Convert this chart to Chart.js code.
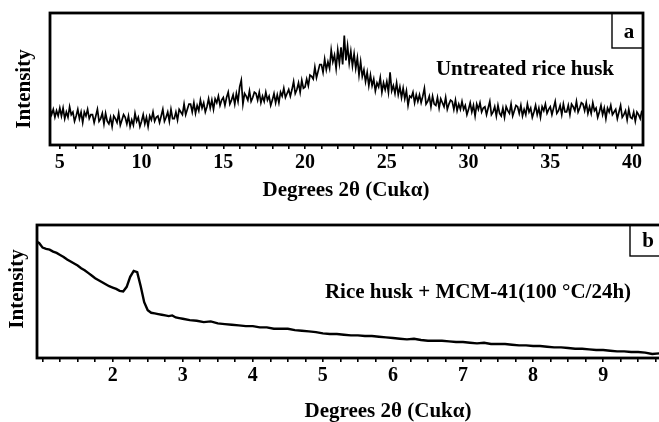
<!DOCTYPE html>
<html>
<head>
<meta charset="utf-8">
<script src="https://cdn.jsdelivr.net/npm/chart.js@4"></script>
<style>
  html, body { margin: 0; padding: 0; background: #fff; overflow: hidden; }
  #wrap { position: relative; width: 659px; height: 422px; }
  .box { position: absolute; left: 0; }
</style>
</head>
<body>
<div id="wrap">
  <div class="box" style="top:0;width:659px;height:205px"><canvas id="chartA"></canvas></div>
  <div class="box" style="top:205px;width:665px;height:217px"><canvas id="chartB"></canvas></div>
</div>
<script>
// panel a: untreated rice husk, 2theta from 4.4 in steps of 0.1
const rawStart = 4.4;
const rawStep = 0.1;
const rawIntensity = [
  28, 23, 27, 21, 26, 22,
  28, 22, 28, 20, 25, 21, 29, 23, 25, 18,
  22, 27, 20, 25, 17, 25, 22, 27, 20, 23,
  23, 17, 22, 27, 18, 20, 24, 16, 24, 18,
  16, 21, 14, 22, 20, 17, 24, 15, 19, 23,
  21, 16, 22, 14, 19, 15, 24, 18, 21, 14,
  18, 23, 16, 21, 14, 22, 19, 25, 18, 21,
  22, 17, 22, 27, 18, 21, 25, 18, 27, 20,
  20, 25, 19, 27, 25, 23, 31, 23, 27, 31,
  31, 25, 32, 24, 30, 26, 34, 28, 32, 25,
  29, 35, 28, 34, 27, 35, 32, 37, 30, 34,
  36, 30, 36, 40, 31, 34, 38, 31, 39, 33,
  44, 49, 31, 39, 37, 34, 41, 33, 36, 40,
  39, 34, 40, 32, 37, 33, 40, 34, 37, 30,
  34, 39, 32, 38, 32, 40, 37, 43, 36, 39,
  42, 37, 42, 48, 39, 42, 47, 40, 49, 43,
  44, 50, 45, 53, 52, 50, 59, 51, 56, 61,
  61, 55, 65, 57, 63, 58, 72, 63, 68, 58,
  72, 62, 74, 61, 83, 64, 75, 62, 71, 60,
  69, 58, 66, 53, 63, 52, 57, 48, 55, 45,
  53, 45, 50, 41, 47, 44, 51, 40, 47, 42,
  48, 40, 55, 41, 45, 39, 47, 38, 44, 36,
  43, 35, 41, 30, 37, 36, 40, 32, 38, 33,
  38, 32, 37, 43, 31, 33, 37, 29, 37, 31,
  30, 36, 28, 35, 32, 29, 36, 27, 31, 34,
  33, 27, 34, 26, 31, 27, 33, 27, 30, 23,
  27, 32, 25, 30, 22, 31, 27, 32, 25, 28,
  29, 23, 28, 33, 23, 25, 29, 22, 30, 24,
  22, 28, 21, 29, 26, 24, 31, 22, 26, 30,
  29, 24, 30, 22, 27, 23, 31, 25, 28, 21,
  25, 30, 23, 28, 21, 29, 26, 31, 24, 27,
  29, 23, 28, 33, 24, 26, 30, 23, 31, 25,
  25, 30, 23, 31, 29, 26, 33, 25, 28, 32,
  31, 26, 32, 24, 29, 24, 32, 26, 28, 21,
  25, 30, 23, 28, 20, 28, 25, 30, 23, 25,
  27, 20, 25, 30, 21, 23, 26, 19, 27, 21,
  20, 25, 18, 25, 23, 20, 26
];
const rawTicks = [5, 10, 15, 20, 25, 30, 35, 40];

// panel b: rice husk + MCM-41
const mcmAngles = [
  0.90, 0.95, 1.00, 1.05, 1.10, 1.15, 1.20, 1.25, 1.30, 1.35,
  1.40, 1.45, 1.50, 1.55, 1.60, 1.65, 1.70, 1.75, 1.80, 1.85,
  1.90, 1.95, 2.00, 2.05, 2.10, 2.15, 2.20, 2.25, 2.30, 2.35,
  2.40, 2.45, 2.50, 2.55, 2.60, 2.65, 2.70, 2.75, 2.80, 2.85,
  2.90, 2.95, 3.00,
  3.1, 3.2, 3.3, 3.4, 3.5, 3.6, 3.7, 3.8, 3.9, 4.0,
  4.1, 4.2, 4.3, 4.4, 4.5, 4.6, 4.7, 4.8, 4.9, 5.0,
  5.1, 5.2, 5.3, 5.4, 5.5, 5.6, 5.7, 5.8, 5.9, 6.0,
  6.1, 6.2, 6.3, 6.4, 6.5, 6.6, 6.7, 6.8, 6.9, 7.0,
  7.1, 7.2, 7.3, 7.4, 7.5, 7.6, 7.7, 7.8, 7.9, 8.0,
  8.1, 8.2, 8.3, 8.4, 8.5, 8.6, 8.7, 8.8, 8.9, 9.0,
  9.1, 9.2, 9.3, 9.4, 9.5, 9.6, 9.7, 9.8
];
const mcmIntensity = [
  88, 86.5, 83, 82, 81.5, 80, 79, 77.5, 76, 74,
  72.5, 71, 69.5, 67.5, 66, 64, 62, 60, 58.5, 57,
  55.5, 54, 53, 52, 50.5, 50, 53.5, 61, 65.5, 64.5,
  54, 42, 36, 34, 33.5, 33, 32.5, 32, 31.5, 32,
  30.5, 30, 29.5,
  28.5, 28, 27, 27.5, 26, 25.5, 25, 24.5, 24, 24,
  23, 23, 22, 22, 22, 21, 20.5, 20, 19.5, 18.5,
  18, 18, 17.5, 17, 17, 16.5, 16.5, 16, 15.5, 15,
  14.5, 14, 14.5, 13.5, 13, 13, 13, 12.5, 12, 12,
  11.5, 11, 11.5, 10.5, 10.5, 10.5, 10, 9.5, 9.5, 9,
  9, 8.5, 8, 8, 7.5, 7, 7, 6.5, 6, 6,
  5.5, 5, 5, 4.5, 4.5, 4, 3, 3.5
];
const mcmTicks = [2, 3, 4, 5, 6, 7, 8, 9];

const serif = "'Liberation Serif', 'Times New Roman', serif";

const framePlugin = {
  id: 'frame',
  afterDraw(chart, args, opts) {
    const ctx = chart.ctx;
    const a = chart.chartArea;
    ctx.save();
    ctx.strokeStyle = '#000';
    ctx.lineWidth = 2.8;
    ctx.strokeRect(a.left, a.top, a.right - a.left, a.bottom - a.top);

    // panel tag box
    ctx.lineWidth = 1.4;
    ctx.strokeRect(opts.tagX, a.top, a.right - opts.tagX, opts.tagH);
    ctx.fillStyle = '#000';
    ctx.textAlign = 'center';
    ctx.textBaseline = 'middle';
    ctx.font = 'bold 21px ' + serif;
    ctx.fillText(opts.tag, opts.tagTextX, opts.tagTextY);

    // annotation
    ctx.fillText(opts.note, opts.noteX, opts.noteY);

    // axis titles
    ctx.fillText('Degrees 2\u03b8 (Cuk\u03b1)', opts.xTitleX, opts.xTitleY);
    ctx.translate(opts.yTitleX, opts.yTitleY);
    ctx.rotate(-Math.PI / 2);
    ctx.fillText('Intensity', 0, 0);
    ctx.restore();
  }
};

function minorTicks(step) {
  return function (scale) {
    const ticks = [];
    const k0 = Math.ceil(scale.min / step - 1e-9);
    const k1 = Math.floor(scale.max / step + 1e-9);
    for (let k = k0; k <= k1; k++) ticks.push({ value: +(k * step).toFixed(4) });
    scale.ticks = ticks;
  };
}

function makeChart(id, points, lineWidth, xMin, xMax, step, labels, xHeight, yWidth, pad, frameOpts) {
  const ctx = document.getElementById(id).getContext('2d');
  return new Chart(ctx, {
    type: 'line',
    data: {
      datasets: [{
        data: points,
        borderColor: '#000',
        borderWidth: lineWidth,
        pointRadius: 0,
        tension: 0,
        fill: false
      }]
    },
    options: {
      responsive: true,
      maintainAspectRatio: false,
      animation: false,
      layout: { padding: pad },
      plugins: { legend: { display: false }, tooltip: { enabled: false }, frame: frameOpts },
      scales: {
        x: {
          type: 'linear',
          min: xMin,
          max: xMax,
          afterBuildTicks: minorTicks(step),
          afterFit(scale) { scale.height = xHeight; },
          border: { display: false },
          grid: { drawOnChartArea: false, drawTicks: true, tickLength: 4, color: '#000', lineWidth: 1.6 },
          ticks: {
            autoSkip: false,
            maxRotation: 0,
            padding: 2,
            color: '#000',
            font: { family: serif, size: 20, weight: 'bold' },
            callback: (v) => labels.includes(v) ? String(v) : ''
          }
        },
        y: {
          min: 0,
          max: 100,
          afterFit(scale) { scale.width = yWidth; },
          border: { display: false },
          grid: { display: false },
          ticks: { display: false }
        }
      }
    },
    plugins: [framePlugin]
  });
}

const rawPoints = rawIntensity.map((v, i) => ({ x: rawStart + i * rawStep, y: v }));
const mcmPoints = mcmIntensity.map((v, i) => ({ x: mcmAngles[i], y: v }));

makeChart('chartA', rawPoints, 1.7, 4.4, 40.67, 1, rawTicks, 60, 50,
  { top: 13, right: 16, left: 0, bottom: 0 },
  { tag: 'a', tagX: 612, tagH: 35, tagTextX: 629, tagTextY: 33,
    note: 'Untreated rice husk', noteX: 525, noteY: 70,
    xTitleX: 346, xTitleY: 191, yTitleX: 25, yTitleY: 89 });

makeChart('chartB', mcmPoints, 2.4, 0.92, 9.84, 0.25, mcmTicks, 64, 37,
  { top: 20, right: 3, left: 0, bottom: 0 },
  { tag: 'b', tagX: 630, tagH: 31, tagTextX: 648, tagTextY: 37,
    note: 'Rice husk + MCM-41(100 \u00b0C/24h)', noteX: 478, noteY: 88,
    xTitleX: 388, xTitleY: 207, yTitleX: 18, yTitleY: 84 });
</script>
</body>
</html>
